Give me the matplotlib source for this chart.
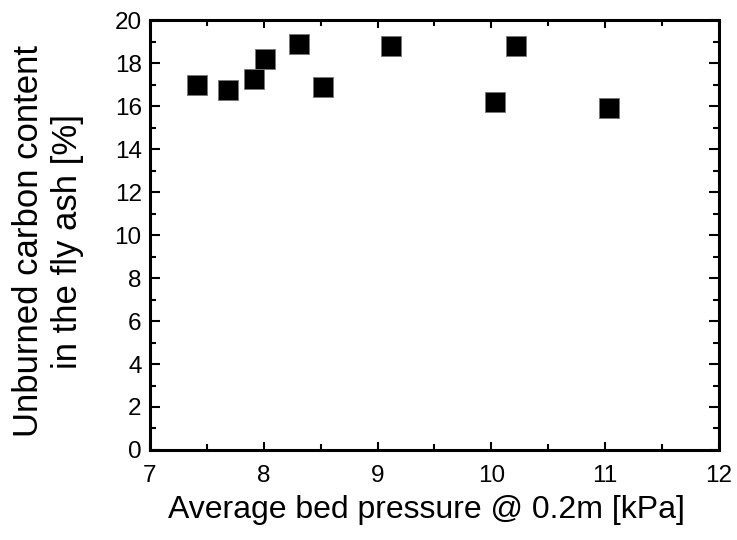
import matplotlib
matplotlib.use("Agg")
import matplotlib.pyplot as plt
from matplotlib.ticker import MultipleLocator

plt.rcParams['font.family'] = ['Liberation Sans', 'DejaVu Sans']

pressure = [7.41, 7.69, 7.91, 8.01, 8.31, 8.52, 9.12, 10.03, 10.22, 11.03]
carbon = [17.0, 16.75, 17.25, 18.2, 18.9, 16.9, 18.8, 16.2, 18.8, 15.9]

fig = plt.figure(figsize=(7.37, 5.4), dpi=100)
ax = fig.add_axes([0.2035, 0.1667, 0.772, 0.796])

ax.scatter(pressure, carbon, marker='s', s=15**2, c='black',
           edgecolors='#777777', linewidths=0.6, zorder=3)

ax.set_xlim(7, 12)
ax.set_ylim(0, 20)
ax.xaxis.set_major_locator(MultipleLocator(1))
ax.xaxis.set_minor_locator(MultipleLocator(0.5))
ax.yaxis.set_major_locator(MultipleLocator(2))
ax.yaxis.set_minor_locator(MultipleLocator(1))

ax.tick_params(which='both', direction='in', top=True, right=True,
               labelsize=17.5, width=1.5)
ax.tick_params(which='major', length=7)
ax.tick_params(which='minor', length=4)
ax.tick_params(axis='x', which='major', top=True, length=6, pad=11)
ax.tick_params(axis='y', which='major', pad=6)
for s in ax.spines.values():
    s.set_linewidth(2.2)

ax.set_xlabel('Average bed pressure @ 0.2m [kPa]', fontsize=23)
ax.set_ylabel('Unburned carbon content\nin the fly ash [%]', fontsize=25,
              linespacing=1.24)
ax.yaxis.set_label_coords(-0.116, 0.486)
ax.xaxis.set_label_coords(0.486, -0.105)

fig.savefig('out.png', dpi=100)
